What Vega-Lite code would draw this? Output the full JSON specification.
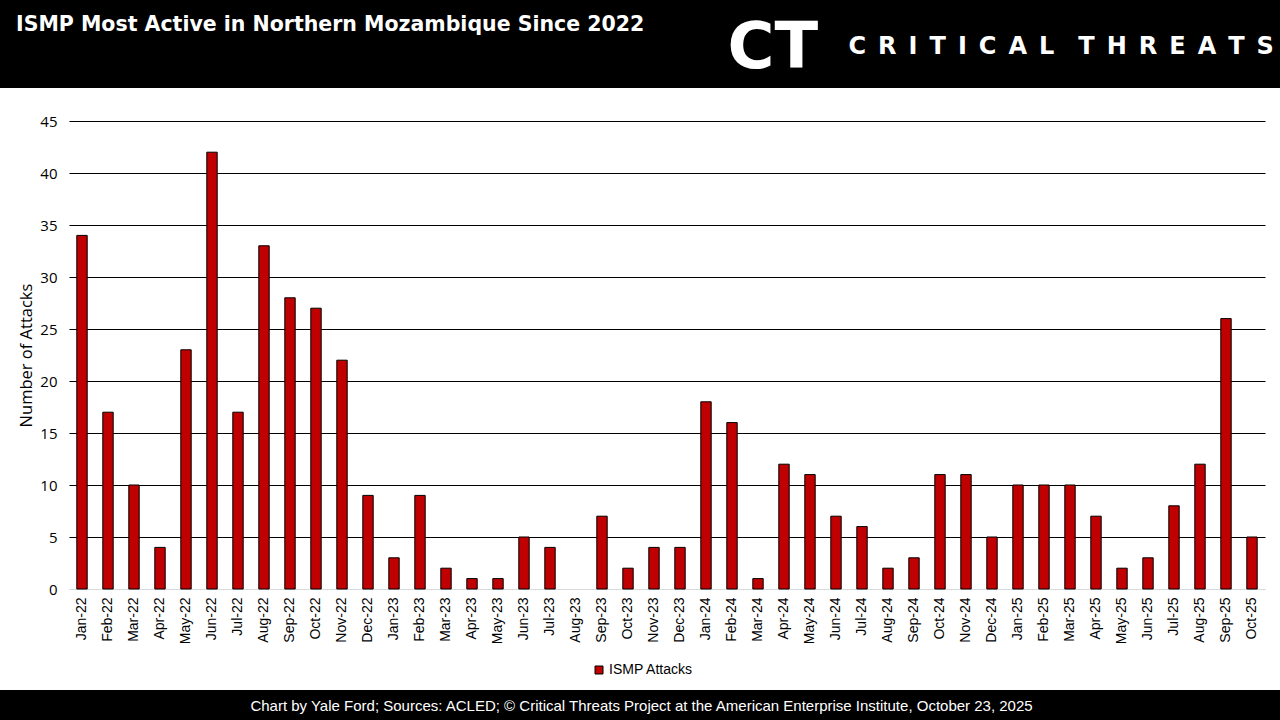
{
  "$schema": "https://vega.github.io/schema/vega-lite/v6.json",
  "width": 1280,
  "height": 602,
  "autosize": {"type": "none"},
  "padding": {"left": 0, "top": 88, "right": 0, "bottom": 30},
  "background": "black",
  "config": {"view": {"fill": "white", "stroke": null}},
  "title": {
    "text": "ISMP Most Active in Northern Mozambique Since 2022",
    "anchor": "start",
    "frame": "group",
    "orient": "top",
    "color": "white",
    "font": "DejaVu Sans",
    "fontSize": 20.5,
    "fontWeight": "bold",
    "baseline": "alphabetic",
    "dx": 16,
    "offset": -35
  },
  "data": {
    "values": [
      {"month": "Jan-22", "attacks": 34}, {"month": "Feb-22", "attacks": 17}, {"month": "Mar-22", "attacks": 10},
      {"month": "Apr-22", "attacks": 4}, {"month": "May-22", "attacks": 23}, {"month": "Jun-22", "attacks": 42},
      {"month": "Jul-22", "attacks": 17}, {"month": "Aug-22", "attacks": 33}, {"month": "Sep-22", "attacks": 28},
      {"month": "Oct-22", "attacks": 27}, {"month": "Nov-22", "attacks": 22}, {"month": "Dec-22", "attacks": 9},
      {"month": "Jan-23", "attacks": 3}, {"month": "Feb-23", "attacks": 9}, {"month": "Mar-23", "attacks": 2},
      {"month": "Apr-23", "attacks": 1}, {"month": "May-23", "attacks": 1}, {"month": "Jun-23", "attacks": 5},
      {"month": "Jul-23", "attacks": 4}, {"month": "Aug-23", "attacks": 0}, {"month": "Sep-23", "attacks": 7},
      {"month": "Oct-23", "attacks": 2}, {"month": "Nov-23", "attacks": 4}, {"month": "Dec-23", "attacks": 4},
      {"month": "Jan-24", "attacks": 18}, {"month": "Feb-24", "attacks": 16}, {"month": "Mar-24", "attacks": 1},
      {"month": "Apr-24", "attacks": 12}, {"month": "May-24", "attacks": 11}, {"month": "Jun-24", "attacks": 7},
      {"month": "Jul-24", "attacks": 6}, {"month": "Aug-24", "attacks": 2}, {"month": "Sep-24", "attacks": 3},
      {"month": "Oct-24", "attacks": 11}, {"month": "Nov-24", "attacks": 11}, {"month": "Dec-24", "attacks": 5},
      {"month": "Jan-25", "attacks": 10}, {"month": "Feb-25", "attacks": 10}, {"month": "Mar-25", "attacks": 10},
      {"month": "Apr-25", "attacks": 7}, {"month": "May-25", "attacks": 2}, {"month": "Jun-25", "attacks": 3},
      {"month": "Jul-25", "attacks": 8}, {"month": "Aug-25", "attacks": 12}, {"month": "Sep-25", "attacks": 26},
      {"month": "Oct-25", "attacks": 5}
    ]
  },
  "layer": [
    {
      "mark": {"type": "bar", "strokeWidth": 1},
      "encoding": {
        "x": {
          "field": "month",
          "type": "nominal",
          "sort": null,
          "scale": {"range": [69, 1265], "paddingInner": 0.6, "paddingOuter": 0.3},
          "axis": {
            "orient": "bottom",
            "offset": -101,
            "labelAngle": -90,
            "labelFont": "Liberation Sans",
            "labelFontSize": 14,
            "labelColor": "black",
            "labelPadding": 8,
            "ticks": false,
            "tickSize": 0,
            "domain": true,
            "domainColor": "#d9d9d9",
            "domainWidth": 1,
            "grid": false,
            "title": "Chart by Yale Ford; Sources: ACLED; © Critical Threats Project at the American Enterprise Institute, October 23, 2025",
            "titleColor": "white",
            "titleFont": "Liberation Sans",
            "titleFontSize": 15,
            "titleFontWeight": "normal",
            "titleX": 641,
            "titleY": 116,
            "titleAlign": "center",
            "titleBaseline": "middle"
          }
        },
        "y": {
          "field": "attacks",
          "type": "quantitative",
          "scale": {"domain": [0, 45], "range": [501, 33], "nice": false, "zero": true},
          "axis": {
            "orient": "left",
            "offset": -57,
            "values": [0, 5, 10, 15, 20, 25, 30, 35, 40, 45],
            "domain": false,
            "ticks": false,
            "tickSize": 0,
            "labelPadding": 0,
            "labelFont": "Open Sans",
            "labelFontSize": 15,
            "labelColor": "black",
            "grid": true,
            "gridColor": {"condition": {"test": "datum.value === 0", "value": "#d9d9d9"}, "value": "black"},
            "gridWidth": 1,
            "title": "Number of Attacks",
            "titleFont": "Open Sans",
            "titleFontSize": 16.5,
            "titleFontWeight": "normal",
            "titleColor": "black",
            "titlePadding": 5
          }
        },
        "color": {
          "datum": "ISMP Attacks",
          "type": "nominal",
          "scale": {"range": ["#C00000"]},
          "legend": {
            "orient": "none",
            "legendX": 592,
            "legendY": 575,
            "title": null,
            "padding": 0,
            "symbolType": "square",
            "symbolSize": 64,
            "symbolStrokeColor": "black",
            "symbolStrokeWidth": 1,
            "labelFont": "Liberation Sans",
            "labelFontSize": 14,
            "labelColor": "black",
            "labelOffset": 3
          }
        },
        "stroke": {"condition": {"test": "datum.attacks > 0", "value": "black"}, "value": null}
      }
    },
    {
      "mark": {"type": "bar", "opacity": 0},
      "encoding": {
        "x": {
          "field": "month",
          "type": "nominal",
          "sort": null,
          "scale": {"range": [69, 1265], "paddingInner": 0.6, "paddingOuter": 0.3},
          "axis": {
            "orient": "top",
            "labels": false,
            "ticks": false,
            "domain": false,
            "grid": false,
            "title": "C\u2002R\u2002I\u2002T\u2002I\u2002C\u2002A\u2002L\u2002\u2002T\u2002H\u2002R\u2002E\u2002A\u2002T\u2002S",
            "titleFont": "DejaVu Sans",
            "titleFontSize": 24,
            "titleFontWeight": "bold",
            "titleColor": "white",
            "titleX": 848,
            "titleY": -35,
            "titleAlign": "left",
            "titleBaseline": "alphabetic"
          }
        },
        "y": {
          "field": "attacks",
          "type": "quantitative",
          "scale": {"domain": [0, 45], "range": [501, 33], "nice": false, "zero": true},
          "axis": {
            "orient": "right",
            "labels": false,
            "ticks": false,
            "domain": false,
            "grid": false,
            "title": "CT",
            "titleAngle": 0,
            "titleFont": "DejaVu Sans",
            "titleFontSize": 64,
            "titleFontWeight": "bold",
            "titleColor": "white",
            "titleX": -553,
            "titleY": -21,
            "titleAlign": "left",
            "titleBaseline": "alphabetic"
          }
        }
      }
    }
  ],
  "resolve": {"axis": {"x": "independent", "y": "independent"}}
}
